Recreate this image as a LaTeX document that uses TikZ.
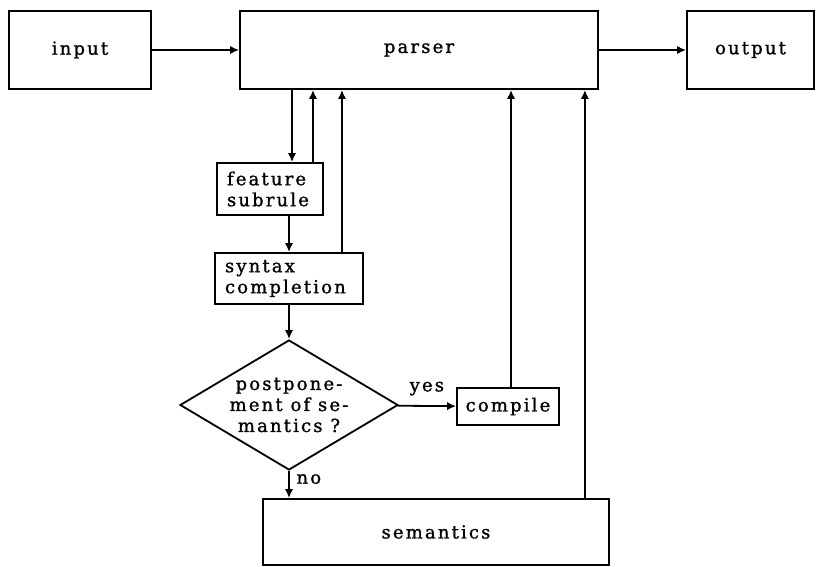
\documentclass[tikz,border=0pt]{standalone}
\usepackage{fontspec}
\setmainfont{DejaVu Serif}[LetterSpace=12, FakeBold=1.2]
\usetikzlibrary{shapes,arrows,arrows.meta,positioning,calc}

\tikzset{
  block/.style={draw, line width=0.9pt, inner sep=0pt},
  arr/.style={-{Latex[length=4.5pt, width=4.2pt]}, line width=0.9pt},
}

\begin{document}
\begin{tikzpicture}[x=0.5pt,y=-0.5pt,font=\fontsize{9}{10.5}\selectfont]
\useasboundingbox (0,0) rectangle (816,567);
% top row
\node[block, minimum width=71pt, minimum height=39pt] (input) at (80,50) {input};
\node[block, minimum width=179pt, minimum height=39pt] (parser) at (419,50) {parser};
\node[block, minimum width=63.5pt, minimum height=39pt] (output) at (750.5,50) {output};
% left column
\node[block, minimum width=53pt, minimum height=26pt, text width=43pt, inner xsep=5pt, align=left] (feature) at (270,189) {feature\\subrule};
\node[block, minimum width=74pt, minimum height=25.5pt, text width=64pt, inner xsep=5pt, align=left] (syntax) at (289,278.5) {syntax\\completion};
\node[draw, diamond, line width=0.9pt, aspect=1.68, inner sep=0pt, minimum width=109pt, minimum height=65pt, align=center] (decide) at (289,405) {postpone-\\ment of se-\\mantics ?};
\node[block, minimum width=51pt, minimum height=18.5pt] (compile) at (508,406.5) {compile};
\node[block, minimum width=173pt, minimum height=33pt] (semantics) at (436,532) {semantics};

\coordinate (fdown) at ([xshift=11pt]feature.north);
\coordinate (fup) at ([xshift=21.5pt]feature.north);
\coordinate (sup) at ([xshift=26.5pt]syntax.north);
\coordinate (mup) at ([xshift=-12.5pt]semantics.north east);
\coordinate (cup) at ([xshift=1.5pt]compile.north);

\draw[arr] (input) -- (parser);
\draw[arr] (parser) -- (output);
\draw[arr] (fdown |- parser.south) -- (fdown);
\draw[arr] (fup) -- (fup |- parser.south);
\draw[arr] (feature.south -| syntax.north) -- (syntax.north);
\draw[arr] (sup) -- (sup |- parser.south);
\draw[arr] (syntax) -- (decide);
\draw[arr] (decide) -- node[midway, above=1.5pt] {yes} (compile);
\draw[arr] (cup) -- (cup |- parser.south);
\draw[arr] (decide.south) -- node[pos=0.3, right] {no} (decide.south |- semantics.north);
\draw[arr] (mup) -- (mup |- parser.south);
\end{tikzpicture}
\end{document}
